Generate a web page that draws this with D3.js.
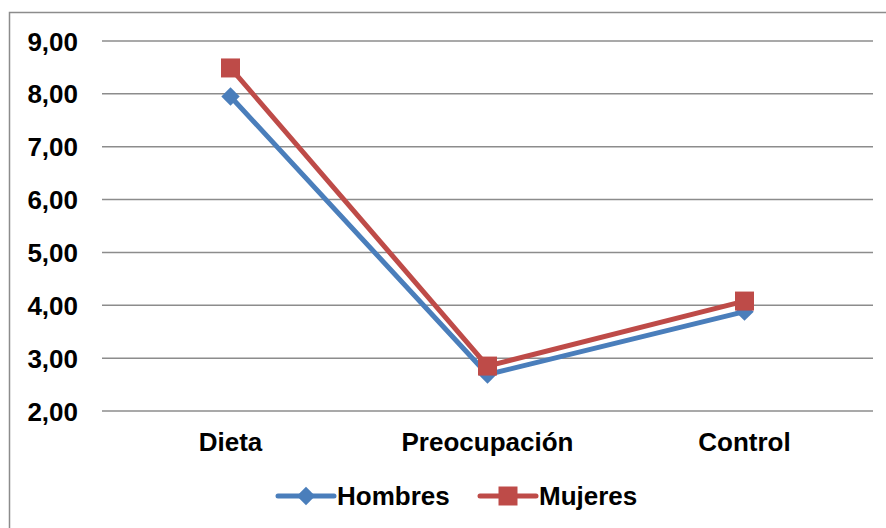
<!DOCTYPE html>
<html>
<head>
<meta charset="utf-8">
<script src="https://cdn.jsdelivr.net/npm/d3@7"></script>
<style>
  body { margin: 0; background: #fff; }
  text { font-family: "Liberation Sans", Arial, sans-serif; font-weight: bold; fill: #000; }
</style>
</head>
<body>
<svg id="chart" width="886" height="528"></svg>
<script>
const categories = ["Dieta", "Preocupación", "Control"];
const hombres = [7.95, 2.69, 3.88];
const mujeres = [8.49, 2.85, 4.08];
const yTicks = [2, 3, 4, 5, 6, 7, 8, 9];

const svg = d3.select("#chart");

// chart border (only top and left edges are inside the picture)
svg.append("path")
  .attr("d", "M9.5,528V12.5H886")
  .attr("fill", "none").attr("stroke", "#8c8c8c").attr("stroke-width", 1.5);

const x = d3.scaleBand().domain(categories).range([102, 873]);
const y = d3.scaleLinear().domain([2, 9]).range([411, 41]);
const fmt = d => d.toFixed(2).replace(".", ",");

// gridlines
svg.append("g")
  .selectAll("line")
  .data(yTicks)
  .join("line")
  .attr("x1", 102).attr("x2", 873)
  .attr("y1", d => y(d)).attr("y2", d => y(d))
  .attr("stroke", "#8c8c8c").attr("stroke-width", 1.5);

// y axis labels
const yAxis = d3.axisLeft(y).tickValues(yTicks).tickFormat(fmt).tickSize(0).tickPadding(24);
svg.append("g")
  .attr("transform", "translate(102,0)")
  .call(yAxis)
  .call(g => g.select(".domain").remove())
  .selectAll("text")
  .style("font-size", "26px")
  .attr("dy", "0.35em");

// x axis labels
const xAxis = d3.axisBottom(x).tickSize(0).tickPadding(22);
svg.append("g")
  .attr("transform", "translate(0,411)")
  .call(xAxis)
  .call(g => g.select(".domain").remove())
  .selectAll("text")
  .style("font-size", "26px");

const series = [
  { name: "Hombres", values: hombres, color: "#4a7ebb", size: 169, rotate: 45 },
  { name: "Mujeres", values: mujeres, color: "#be4b48", size: 361, rotate: 0 }
];

const line = d3.line()
  .x((d, i) => x(categories[i]) + x.bandwidth() / 2)
  .y(d => y(d));

series.forEach(s => {
  svg.append("path")
    .datum(s.values)
    .attr("d", line)
    .attr("fill", "none")
    .attr("stroke", s.color)
    .attr("stroke-width", 5)
    .attr("stroke-linejoin", "round");

  svg.append("g")
    .selectAll("path")
    .data(s.values)
    .join("path")
    .attr("d", d3.symbol().type(d3.symbolSquare).size(s.size))
    .attr("transform", (d, i) => `translate(${x(categories[i]) + x.bandwidth() / 2},${y(d)}) rotate(${s.rotate})`)
    .attr("fill", s.color);
});

// legend
const legend = svg.append("g").attr("transform", "translate(0,496)");
const legendX = [278, 480];
series.forEach((s, i) => {
  const g = legend.append("g").attr("transform", `translate(${legendX[i]},0)`);
  g.append("line")
    .attr("x1", 0).attr("x2", 56)
    .attr("stroke", s.color).attr("stroke-width", 5).attr("stroke-linecap", "round");
  g.append("path")
    .attr("d", d3.symbol().type(d3.symbolSquare).size(s.size))
    .attr("transform", `translate(28,0) rotate(${s.rotate})`)
    .attr("fill", s.color);
  g.append("text")
    .attr("x", 59).attr("dy", "0.35em")
    .style("font-size", "26px")
    .text(s.name);
});
</script>
</body>
</html>
